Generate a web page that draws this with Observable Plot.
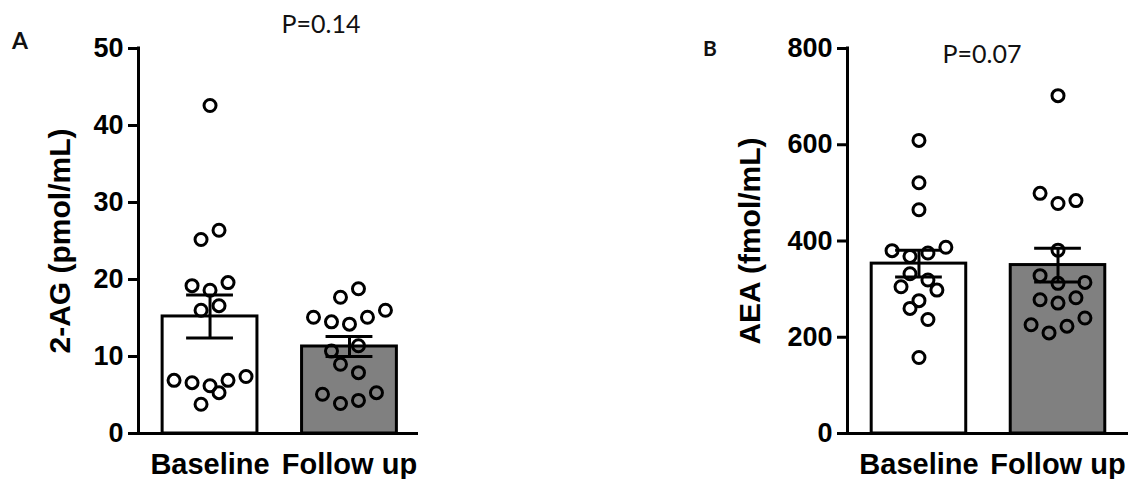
<!DOCTYPE html>
<html>
<head>
<meta charset="utf-8">
<script src="https://cdn.jsdelivr.net/npm/d3@7"></script>
<script src="https://cdn.jsdelivr.net/npm/@observablehq/plot@0.6"></script>
<style>
  html, body { margin: 0; padding: 0; background: #fff; }
  #wrap { position: relative; width: 1132px; height: 479px; overflow: hidden; background: #fff; font-family: "Liberation Sans", Arial, sans-serif; }
  .panel { position: absolute; top: 0; }
  .note { position: absolute; font-family: Lato, "Open Sans", sans-serif; line-height: 1; white-space: nowrap; color: #111; }
</style>
</head>
<body>
<div id="wrap">
  <div class="panel" id="pa" style="left:0px"></div>
  <div class="panel" id="pb" style="left:700px"></div>
  <div class="note" style="left:12px; top:29px; font-size:23px; font-weight:bold;">A</div>
  <div class="note" style="left:703px; top:37px; font-size:21px; font-weight:bold;">B</div>
  <div class="note" style="left:321px; top:11px; font-size:25px; transform:translateX(-50%);">P=0.14</div>
  <div class="note" style="left:982px; top:41px; font-size:25px; transform:translateX(-50%);">P=0.07</div>
</div>
<script>
// ---- data ----
const groups = ["Baseline", "Follow up"];
const groupFill = ["#ffffff", "#808080"];

// Panel A: 2-AG (pmol/mL)
const agTicks = [0, 10, 20, 30, 40, 50];
const agMean = [15.2, 11.3];
const agSem = [2.8, 1.3];
const agBaseline = [42.6, 25.2, 26.4, 19.2, 18.6, 19.6, 16.0, 16.6, 6.9, 6.6, 6.2, 6.9, 7.4, 5.3, 3.8];
const agBaselineSlot = [0, -1, 1, -2, 0, 2, -1, 1, -4, -2, 0, 2, 4, 1, -1];
const agFollow = [17.7, 18.8, 15.1, 14.5, 14.2, 15.1, 16.0, 11.4, 10.7, 9.0, 7.9, 5.1, 3.9, 4.3, 5.3];
const agFollowSlot = [-1, 1, -4, -2, 0, 2, 4, 1, -2, -1, 1, -3, -1, 1, 3];

// Panel B: AEA (fmol/mL)
const aeaTicks = [0, 200, 400, 600, 800];
const aeaMean = [353, 350];
const aeaSem = [28, 35];
const aeaBaseline = [609, 521, 465, 380, 368, 375, 387, 332, 319, 305, 298, 276, 260, 237, 158];
const aeaBaselineSlot = [0, 0, 0, -3, -1, 1, 3, -1, 1, -2, 2, 0, -1, 1, 0];
const aeaFollow = [702, 499, 478, 484, 381, 328, 312, 314, 278, 271, 282, 226, 209, 223, 240];
const aeaFollowSlot = [0, -2, 0, 2, 0, -2, 0, 3, -2, 0, 2, -3, -1, 1, 3];

// ---- chart builder ----
const HALF = 0.34, CAP = 0.168, SLOT = 0.0645;

function panel({mean, sem, base, baseSlot, follow, followSlot, ticks, yMax, label, labelDx, width, marginLeft, marginRight, xDomain}) {
  const stats = groups.map((g, i) => ({g, i, mean: mean[i], sem: sem[i], fill: groupFill[i]}));
  const pts = [
    ...base.map((v, k) => ({i: 0, v, s: baseSlot[k]})),
    ...follow.map((v, k) => ({i: 1, v, s: followSlot[k]}))
  ];
  return Plot.plot({
    width, height: 479,
    marginLeft, marginRight, marginTop: 48, marginBottom: 46,
    style: {background: "transparent", color: "#000", fontFamily: "'Liberation Sans', Arial, sans-serif", overflow: "visible"},
    x: {domain: xDomain},
    y: {domain: [0, yMax]},
    marks: [
      Plot.rectY(stats, {x1: d => d.i - HALF, x2: d => d.i + HALF, y: "mean", fill: "fill", stroke: "#000", strokeWidth: 3}),
      Plot.ruleX(stats, {x: "i", y1: d => d.mean - d.sem, y2: d => d.mean + d.sem, stroke: "#000", strokeWidth: 3}),
      Plot.ruleY(stats, {y: d => d.mean + d.sem, x1: d => d.i - CAP, x2: d => d.i + CAP, stroke: "#000", strokeWidth: 3}),
      Plot.ruleY(stats, {y: d => d.mean - d.sem, x1: d => d.i - CAP, x2: d => d.i + CAP, stroke: "#000", strokeWidth: 3}),
      Plot.dot(pts, {x: d => d.i + d.s * SLOT, y: "v", r: 6, fill: "none", stroke: "#000", strokeWidth: 3}),
      Plot.ruleY([0], {stroke: "#000", strokeWidth: 3}),
      Plot.ruleX([xDomain[0]], {y1: 0, y2: yMax, stroke: "#000", strokeWidth: 3, strokeLinecap: "square"}),
      Plot.axisY({ticks, tickSize: 10, tickPadding: 5, fontSize: 27, fontWeight: "bold", strokeWidth: 3, label: null}),
      Plot.axisX({ticks: [0, 1], tickFormat: d => groups[d], tickSize: 0, tickPadding: 20, fontSize: 29, fontWeight: "bold", label: null}),
      Plot.text([label], {frameAnchor: "left", textAnchor: "middle", lineAnchor: "middle", rotate: -90, dx: labelDx, fontSize: 30, fontWeight: "bold", fill: "#000"})
    ]
  });
}

document.getElementById("pa").appendChild(panel({
  mean: agMean, sem: agSem, base: agBaseline, baseSlot: agBaselineSlot, follow: agFollow, followSlot: agFollowSlot,
  ticks: agTicks, yMax: 50, label: "2-AG (pmol/mL)", labelDx: -78,
  width: 430, marginLeft: 138, marginRight: 12, xDomain: [-0.513, 1.495]
}));
document.getElementById("pb").appendChild(panel({
  mean: aeaMean, sem: aeaSem, base: aeaBaseline, baseSlot: aeaBaselineSlot, follow: aeaFollow, followSlot: aeaFollowSlot,
  ticks: aeaTicks, yMax: 800, label: "AEA (fmol/mL)", labelDx: -97,
  width: 432, marginLeft: 147, marginRight: 4, xDomain: [-0.514, 1.507]
}));
</script>
</body>
</html>
